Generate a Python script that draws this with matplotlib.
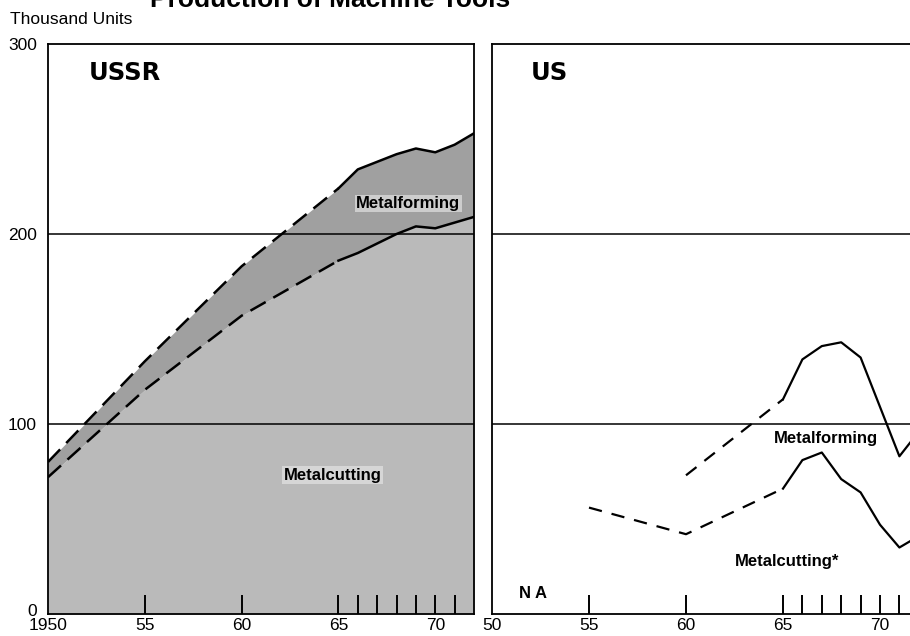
import numpy as np
import matplotlib.pyplot as plt
import matplotlib.transforms as mtransforms

# USSR, thousand units
ussr_years = [1950, 1955, 1960, 1965, 1966, 1967, 1968, 1969, 1970, 1971, 1972]
ussr_cutting = [72, 118, 157, 186, 190, 195, 200, 204, 203, 206, 209]
ussr_forming = [8, 15, 26, 38, 44, 43, 42, 41, 40, 41, 44]

# US, thousand units
us_form_years = [1960, 1965, 1966, 1967, 1968, 1969, 1970, 1971, 1972]
us_forming = [73, 113, 134, 141, 143, 135, 109, 83, 96]
us_cut_years = [1955, 1960, 1965, 1966, 1967, 1968, 1969, 1970, 1971, 1972]
us_cutting = [56, 42, 66, 81, 85, 71, 64, 47, 35, 41]

# data years get a tick, only some get a label
tick_years = [1950, 1955, 1960, 1965, 1966, 1967, 1968, 1969, 1970, 1971]
left_labels = ['1950', '55', '60', '65', '', '', '', '', '70', '']
right_labels = ['50', '55', '60', '65', '', '', '', '', '70', '']

plt.rcParams['font.family'] = ['Liberation Sans', 'DejaVu Sans']

W, H = 910, 636
fig = plt.figure(figsize=(W / 100, H / 100), dpi=100)

def px_axes(x0, x1, y0, y1):
    return fig.add_axes([x0 / W, (H - y1) / H, (x1 - x0) / W, (y1 - y0) / H])

ax1 = px_axes(48, 474, 44, 614)
ax2 = px_axes(492, 910, 44, 614)

def style(ax, labels):
    ax.set_ylim(0, 300)
    for s in ax.spines.values():
        s.set_linewidth(1.3)
    ax.axhline(100, color='black', lw=1.1, zorder=3)
    ax.axhline(200, color='black', lw=1.1, zorder=3)
    ax.set_xticks(tick_years)
    ax.set_xticklabels(labels)
    ax.tick_params(axis='x', direction='in', length=14, width=1.4, color='black',
                   pad=3, labelsize=12.5)
    ax.tick_params(axis='y', length=0, pad=8, labelsize=12.5)
    ax.xaxis.get_major_ticks()[0].tick1line.set_visible(False)

# ---- USSR ----
x = np.array(ussr_years)
cut = np.array(ussr_cutting)
total = cut + np.array(ussr_forming)
ax1.set_xlim(1950, 1972)
ax1.fill_between(x, 0, cut, color='#bababa', lw=0, zorder=1)
ax1.fill_between(x, cut, total, color='#a0a0a0', lw=0, zorder=1)
k = ussr_years.index(1965)
ax1.plot(x[:k + 1], total[:k + 1], color='black', lw=1.8, dashes=(7, 3.5), zorder=4)
ax1.plot(x[k:], total[k:], color='black', lw=1.8, zorder=4)
ax1.plot(x[:k + 1], cut[:k + 1], color='black', lw=1.8, dashes=(7, 3.5), zorder=4)
ax1.plot(x[k:], cut[k:], color='black', lw=1.8, zorder=4)
style(ax1, left_labels)
ax1.set_yticks([0, 100, 200, 300])
# lift the "0" a little so it sits above the "1950"
zero = ax1.get_yticklabels()[0]
zero.set_transform(zero.get_transform() +
                   mtransforms.ScaledTranslation(0, 3 / 72, fig.dpi_scale_trans))

ax1.text(1952.1, 285, 'USSR', fontsize=17.5, fontweight='bold', family='DejaVu Sans',
         va='center', ha='left')
ax1.text(1968.6, 216, 'Metalforming', fontsize=12, fontweight='bold', ha='center', va='center',
         zorder=5, bbox=dict(facecolor='#cdcdcd', edgecolor='none', pad=1.0))
ax1.text(1964.7, 73, 'Metalcutting', fontsize=12, fontweight='bold', ha='center', va='center',
         zorder=5, bbox=dict(facecolor='#d6d6d6', edgecolor='none', pad=1.0))

# ---- US ----
ax2.set_xlim(1950, 1950 + 418 / 19.4)
ax2.spines['right'].set_visible(False)
fx = np.array(us_form_years)
fy = np.array(us_forming)
j = us_form_years.index(1965)
ax2.plot(fx[:j + 1], fy[:j + 1], color='black', lw=1.6, dashes=(6, 4.5), zorder=4)
ax2.plot(fx[j:], fy[j:], color='black', lw=1.6, zorder=4)
cx = np.array(us_cut_years)
cy = np.array(us_cutting)
j = us_cut_years.index(1965)
ax2.plot(cx[:j + 1], cy[:j + 1], color='black', lw=1.6, dashes=(6, 4.5), zorder=4)
ax2.plot(cx[j:], cy[j:], color='black', lw=1.6, zorder=4)
style(ax2, right_labels)
ax2.set_yticks([])

ax2.text(1952.0, 285, 'US', fontsize=17.5, fontweight='bold', family='DejaVu Sans',
         va='center', ha='left')
ax2.text(1967.2, 92.6, 'Metalforming', fontsize=12, fontweight='bold', ha='center', va='center')
ax2.text(1965.2, 27.4, 'Metalcutting*', fontsize=12, fontweight='bold', ha='center', va='center')
ax2.text(1951.4, 11, 'N A', fontsize=12, fontweight='bold', ha='left', va='center')

fig.text(10 / W, 1 - 20 / H, 'Thousand Units', fontsize=12.5, ha='left', va='center')
fig.text(150 / W, 1 - 7 / H, 'Production of Machine Tools', fontsize=19, fontweight='bold',
         ha='left', va='baseline')

fig.savefig('out.png', dpi=100)
